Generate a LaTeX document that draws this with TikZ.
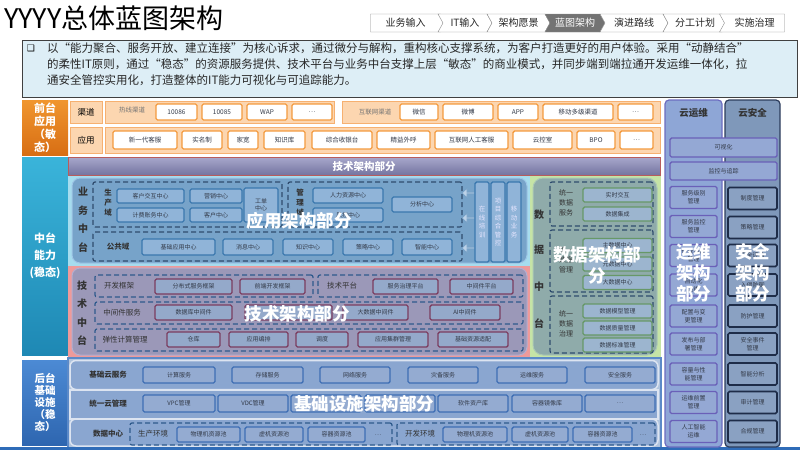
\documentclass[tikz,border=0pt]{standalone}
\usepackage{fontspec}
\setmainfont{Noto Sans CJK SC}
\newfontfamily\symfont{DejaVu Sans}
\usepackage{tikz}
\usetikzlibrary{arrows.meta,positioning,shapes.arrows,shapes.symbols,calc}
\definecolor{frontorange}{HTML}{F0962E}
\definecolor{frontdark}{HTML}{D86E14}
\definecolor{peach}{HTML}{FCD6B0}
\definecolor{peachline}{HTML}{F6B070}
\definecolor{itemorange}{HTML}{F39A3E}
\definecolor{midteal}{HTML}{3AB4DA}
\definecolor{midteal2}{HTML}{1E88B4}
\definecolor{backblue}{HTML}{4C8AD4}
\definecolor{backblue2}{HTML}{2E66B0}
\definecolor{bannertop}{HTML}{A8A8CC}
\definecolor{bannerbot}{HTML}{7474A0}
\definecolor{bannerline}{HTML}{B85C5C}
\definecolor{appbg}{HTML}{A6DCEE}
\definecolor{appfill}{HTML}{77A3C9}
\definecolor{appline}{HTML}{9EC6E6}
\definecolor{aitemfill}{HTML}{90B4D8}
\definecolor{aitemline}{HTML}{3B78AE}
\definecolor{dashline}{HTML}{2F4C6E}
\definecolor{databg}{HTML}{C6E4A6}
\definecolor{datafill}{HTML}{8FABAA}
\definecolor{dataline}{HTML}{AAC8B4}
\definecolor{ditemfill}{HTML}{9CB5CF}
\definecolor{ditemline}{HTML}{679868}
\definecolor{techbg}{HTML}{EE9A9A}
\definecolor{techfill}{HTML}{9B98B8}
\definecolor{techline}{HTML}{B4AED0}
\definecolor{titemfill}{HTML}{94A9CA}
\definecolor{titemline}{HTML}{7B3D60}
\definecolor{techdash}{HTML}{2E5A8C}
\definecolor{infrabg}{HTML}{B0C4DE}
\definecolor{infrafill}{HTML}{8AA6D0}
\definecolor{infraline}{HTML}{5C8AC8}
\definecolor{iitemfill}{HTML}{94ABD1}
\definecolor{iitemline}{HTML}{3E6EB4}
\definecolor{opsfill}{HTML}{8EA6D6}
\definecolor{opsline}{HTML}{6C6CC0}
\definecolor{oitemfill}{HTML}{94A8D4}
\definecolor{oitemline}{HTML}{6A60B8}
\definecolor{secfill}{HTML}{7F98BA}
\definecolor{secline}{HTML}{2C3C5C}
\definecolor{sitemfill}{HTML}{8AA1C2}
\definecolor{sitemline}{HTML}{1E2C48}
\definecolor{descblue}{HTML}{DDEEF6}
\definecolor{textdark}{HTML}{333A48}
\definecolor{footblue}{HTML}{2F6CB8}

\begin{document}
\begin{tikzpicture}[x=1pt,y=-1pt,
  area/.style={inner sep=0pt},
  lab/.style={area, text=white, font=\bfseries\fontsize{11}{13}\selectfont, align=center, minimum width=46},
  tab/.style={shape=signal, signal from=west, signal to=east, signal pointer angle=122,
              draw=black!45, fill=white, minimum height=18, inner sep=0pt,
              font=\fontsize{10}{10}\selectfont, text=black!85},
  tabon/.style={tab, fill=black!55, text=white},
  item/.style={draw, line width=1.4pt, rounded corners=1.5pt, inner sep=0pt, align=center,
               text=textdark, font=\fontsize{6}{7}\selectfont},
  fitem/.style={item, fill=white, draw=itemorange, font=\fontsize{6.5}{7}\selectfont},
  aitem/.style={item, fill=aitemfill, draw=aitemline},
  ditem/.style={item, fill=ditemfill, draw=ditemline},
  titem/.style={item, fill=titemfill, draw=titemline},
  iitem/.style={item, fill=iitemfill, draw=iitemline},
  oitem/.style={item, fill=oitemfill, draw=oitemline, font=\fontsize{6}{8}\selectfont},
  sitem/.style={item, fill=sitemfill, draw=sitemline, line width=1.6pt, font=\fontsize{6}{8}\selectfont},
  dbox/.style={area, draw=dashline, line width=1.2pt, dash pattern=on 5pt off 3pt, rounded corners=2pt},
  vlab/.style={area, font=\bfseries\fontsize{10}{18.5}\selectfont, text=black!80, align=center},
  slab/.style={area, font=\bfseries\fontsize{7.5}{10}\selectfont, text=black!80, align=center},
  big/.style={area, text=white, font=\bfseries\fontsize{17.5}{21}\selectfont, align=center}
]
\useasboundingbox (0,0) rectangle (800,450);

% header
\node[anchor=west, inner sep=0pt, font=\fontsize{27}{27}\selectfont] (title) at (4,18) {YYYY总体蓝图架构};
\node[tab, signal from=nowhere, minimum width=75] (tab-1) at (405.5,23) {业务输入};
\foreach \txt/\xa/\xb/\st [count=\i from 2] in {IT输入/438/487/tab, 架构愿景/487/545/tab,
    蓝图架构/545/600/tabon, 演进路线/600/663/tab, 分工计划/663/722/tab}
  \node[\st, minimum width={(\xb-\xa+5)*1pt}] (tab-\i) at ({(\xa+\xb+5)/2},23) {\txt};
\node[tab, signal to=nowhere, minimum width=65] (tab-7) at (754.5,23) {实施治理};

% description
\node[area, draw=black!75, line width=0.8pt, fill=descblue, minimum width=775, minimum height=57] (desc) at (409.5,68.5) {};
\node[inner sep=0pt, font=\symfont\fontsize{9}{9}\selectfont] (bullet) at (31,48) {❑};
\node[anchor=west, align=left, inner sep=0pt, font=\fontsize{11.5}{16}\selectfont, text=black!85] (desctext) at (47,64)
  {以“能力聚合、服务开放、建立连接”为核心诉求，通过微分与解构，重构核心支撑系统，为客户打造更好的用户体验。采用“动静结合”\\
   的柔性IT原则，通过“稳态”的资源服务提供、技术平台与业务中台支撑上层“敏态”的商业模式，并同步端到端拉通开发运维一体化，拉\\
   通安全管控实用化，打造整体的IT能力可视化与可追踪能力。};

% left labels
\node[lab, minimum height=55, top color=frontorange, bottom color=frontdark] (front) at (45,127.5) {前台\\应用\\（敏\\态）};
\node[lab, minimum height=198, top color=midteal, bottom color=midteal2, font=\bfseries\fontsize{11}{17}\selectfont] (mid) at (45,256) {中台\\能力\\(稳态)};
\node[lab, minimum height=85, top color=backblue, bottom color=backblue2, font=\bfseries\fontsize{10.5}{12}\selectfont] (back) at (45,402.5) {后台\\基础\\设施\\（稳\\态）};

% front end
\node[area, fill=peach, draw=peachline, line width=1pt, minimum width=32, minimum height=22, font=\fontsize{8.5}{9}\selectfont] (ch-lab) at (86,112) {渠道};
\node[area, fill=peach, draw=peachline, line width=1pt, minimum width=32, minimum height=26, font=\fontsize{8.5}{9}\selectfont] (fa-lab) at (86,140) {应用};
\node[area, fill=peach, draw=peachline, line width=1pt, minimum width=229, minimum height=22] (hot-grp) at (219.5,112) {};
\node[area, fill=peach, draw=peachline, line width=1pt, minimum width=318, minimum height=22] (net-grp) at (501,112) {};
\node[area, fill=peach, draw=peachline, line width=1pt, minimum width=555, minimum height=26] (fa-grp) at (382.5,140) {};
\node[area, text=black!55, font=\fontsize{6.5}{7}\selectfont] (hot-lab) at (132,110) {热线渠道};
\node[area, text=black!55, font=\fontsize{6.5}{7}\selectfont] (net-lab) at (375,112) {互联网渠道};
\foreach \txt/\xa/\xb [count=\i] in {10086/156/197, 10085/202/242, WAP/247/287, \ldots/292/332}
  \node[fitem, minimum width={(\xb-\xa)*1pt}, minimum height=16] (hot-\i) at ({(\xa+\xb)/2},112) {\txt};
\foreach \txt/\xa/\xb [count=\i] in {微信/400/438, 微博/443/493, APP/498/538, 移动多级渠道/543/613, \ldots/618/653}
  \node[fitem, minimum width={(\xb-\xa)*1pt}, minimum height=16] (net-\i) at ({(\xa+\xb)/2},112) {\txt};
\foreach \txt/\xa/\xb [count=\i] in {新一代客服/113/177, 实名制/182/222, 家宽/228/258, 知识库/264/305,
    综合收银台/312/372, 精益外呼/377/430, 互联网人工客服/435/508, 云控室/513/572, BPO/577/615, \ldots/620/653}
  \node[fitem, minimum width={(\xb-\xa)*1pt}, minimum height=18] (fa-\i) at ({(\xa+\xb)/2},140) {\txt};

% banner
\node[area, top color=bannertop, bottom color=bannerbot, draw=bannerline, line width=0.6pt,
      minimum width=592, minimum height=18, text=white, font=\bfseries\fontsize{10.5}{11}\selectfont] (banner) at (364,166) {技术架构部分};

% application middle platform
\node[area, fill=appbg, minimum width=462, minimum height=90] (app-bg) at (299,221) {};
\node[area, fill=appfill, draw=appline, line width=1pt, rounded corners=8pt, minimum width=455, minimum height=85] (app-in) at (299.5,220.5) {};
\node[vlab] (app-lab) at (83,220) {业\\务\\中\\台};
\node[dbox, minimum width=189, minimum height=45] (prod) at (187.5,204.5) {};
\node[dbox, minimum width=174, minimum height=45] (mgmt) at (375,204.5) {};
\node[dbox, minimum width=369, minimum height=29] (pub) at (277.5,246.5) {};
\node[slab] (prod-lab) at (108,203) {生\\产\\域};
\node[slab] (mgmt-lab) at (300,203) {管\\理\\域};
\node[slab] (pub-lab) at (118,247) {公共域};
\foreach \txt/\xa/\xb/\ya/\yb [count=\i] in {客户交互中心/117/184/189/203, 营销中心/190/242/189/203,
    计费账务中心/117/184/208/222, 客户中心/190/242/208/222, 工单\\中心/244/278/188/222,
    人力资源中心/313/383/188/203, 风控中心/313/383/208/222, 分析中心/392/452/197/212}
  \node[aitem, minimum width={(\xb-\xa)*1pt}, minimum height={(\yb-\ya)*1pt}] (ap-\i) at ({(\xa+\xb)/2},{(\ya+\yb)/2}) {\txt};
\foreach \txt/\xa/\xb [count=\i] in {基础应用中心/142/215, 消息中心/223/273, 知识中心/283/333, 策略中心/343/393, 智能中心/402/452}
  \node[aitem, minimum width={(\xb-\xa)*1pt}, minimum height=16] (pb-\i) at ({(\xa+\xb)/2},247) {\txt};
\foreach \y [count=\i] in {193,218,248}
  \node[shape=single arrow, shape border rotate=180, single arrow head extend=2pt, fill=aitemfill!60!white,
        draw=aitemline!70, line width=0.8pt, minimum height=13, minimum width=10, inner sep=0pt] (arr-\i) at (469,\y) {};
\foreach \txt/\x [count=\i] in {在\\线\\培\\训/482, 项\\目\\综\\合\\管\\控/498, 移\\动\\业\\务/514}
  \node[aitem, minimum width=14, minimum height=80, text=white!90!blue, font=\fontsize{6.5}{8.5}\selectfont] (bar-\i) at (\x,222) {\txt};

% data middle platform
\node[area, fill=databg, minimum width=131, minimum height=182] (data-bg) at (595.5,267) {};
\node[area, fill=datafill, draw=dataline, line width=1pt, rounded corners=10pt, minimum width=124, minimum height=177] (data-in) at (595,266.5) {};
\foreach \txt/\y [count=\i] in {数/215, 据/250, 中/287, 台/324}
  \node[vlab] (data-lab-\i) at (539,\y) {\txt};
\node[dbox, minimum width=103, minimum height=44] (dsvc) at (601.5,204) {};
\node[dbox, minimum width=103, minimum height=62] (dmgt) at (601.5,261) {};
\node[dbox, minimum width=103, minimum height=57] (dgov) at (601.5,324.5) {};
\node[area, align=center, text=black!80, font=\fontsize{7}{10}\selectfont] (dsvc-lab) at (566,203) {统一\\数据\\服务};
\node[area, align=center, text=black!80, font=\fontsize{7}{10}\selectfont] (dmgt-lab) at (566,260) {统一\\数据\\管理};
\node[area, align=center, text=black!80, font=\fontsize{7}{10}\selectfont] (dgov-lab) at (566,324) {统一\\数据\\治理};
\foreach \txt/\y [count=\i] in {实时交互/195, 数据集成/214, 主数据中心/245.5, 元数据中心/264, 大数据中心/282.5,
    数据模型管理/311, 数据质量管理/328, 数据标准管理/345}
  \node[ditem, minimum width=69, minimum height=14] (dt-\i) at (617.5,\y) {\txt};

% technology middle platform
\node[area, fill=techbg, minimum width=462, minimum height=92] (tech-bg) at (299,312) {};
\node[area, fill=techfill, draw=techline, line width=1pt, rounded corners=8pt, minimum width=455, minimum height=87] (tech-in) at (299.5,311.5) {};
\node[vlab] (tech-lab) at (82,313) {技\\术\\中\\台};
\node[dbox, draw=techdash, minimum width=218, minimum height=22] (tdev) at (204,286) {};
\node[dbox, draw=techdash, minimum width=205, minimum height=22] (tplat) at (420.5,286) {};
\node[dbox, draw=techdash, minimum width=428, minimum height=22] (tmid) at (309,313) {};
\node[dbox, draw=techdash, minimum width=428, minimum height=22] (telas) at (309,340) {};
\foreach \txt/\x/\y [count=\i] in {开发框架/119/286, 技术平台/342/286, 中间件服务/122/313, 弹性计算管理/125/340}
  \node[area, text=black!80, font=\fontsize{7.5}{8}\selectfont] (tlab-\i) at (\x,\y) {\txt};
\foreach \txt/\xa/\xb/\y [count=\i] in {分布式服务框架/155/232/286.5, 前端开发框架/240/305/286.5,
    服务治理平台/373/438/286.5, 中间件平台/450/513/286.5,
    数据库中间件/155/232/312.5, {}/245/332/312.5, 大数据中间件/343/408/312.5, AI中间件/430/500/312.5,
    仓库/167/220/339.5, 应用编排/229/288/339.5, 调度/296/348/339.5, 应用集群管理/358/428/339.5, 基础资源适配/438/508/339.5}
  \node[titem, minimum width={(\xb-\xa)*1pt}, minimum height=15] (tc-\i) at ({(\xa+\xb)/2},\y) {\txt};

% infrastructure
\node[area, fill=infrabg, draw=infraline, line width=1.2pt, minimum width=593, minimum height=90] (infra-bg) at (364.5,403) {};
\node[area, fill=infrafill, draw=white!70!infrafill, line width=1.5pt, rounded corners=6pt, minimum width=588, minimum height=29] (irow-1) at (364,375) {};
\node[area, fill=infrafill, draw=white!70!infrafill, line width=1.5pt, minimum width=588, minimum height=29] (irow-2) at (364,404.5) {};
\node[area, fill=infrafill, draw=white!70!infrafill, line width=1.5pt, rounded corners=6pt, minimum width=588, minimum height=27] (irow-3) at (364,432.5) {};
\foreach \txt/\y [count=\i] in {基础云服务/375, 统一云管理/404, 数据中心/434}
  \node[slab] (ilab-\i) at (108,\y) {\txt};
\foreach \txt/\xa/\xb [count=\i] in {计算服务/143/215, 存储服务/232/303, 网络服务/320/390, 灾备服务/408/478, 运维服务/497/567, 安全服务/585/655}
  \node[iitem, minimum width={(\xb-\xa)*1pt}, minimum height=16] (ic-\i) at ({(\xa+\xb)/2},375) {\txt};
\foreach \txt/\xa/\xb [count=\i] in {VPC管理/143/215, VDC管理/218/288, {}/291/361, {}/365/435, 软件资产库/438/508, 容器镜像库/512/582, \ldots/585/655}
  \node[iitem, minimum width={(\xb-\xa)*1pt}, minimum height=17] (im-\i) at ({(\xa+\xb)/2},403.5) {\txt};
\node[dbox, draw=techdash, minimum width=262, minimum height=22] (prodenv) at (261,434) {};
\node[dbox, draw=techdash, minimum width=258, minimum height=22] (devenv) at (526,434) {};
\node[area, text=black!80, font=\fontsize{7.5}{8}\selectfont] (prodenv-lab) at (153,434) {生产环境};
\node[area, text=black!80, font=\fontsize{7.5}{8}\selectfont] (devenv-lab) at (420,434) {开发环境};
\foreach \txt/\xa/\xb [count=\i] in {物理机资源池/177/240, 虚机资源池/245/303, 容器资源池/308/365,
    物理机资源池/443/507, 虚机资源池/512/568, 容器资源池/573/632}
  \node[iitem, minimum width={(\xb-\xa)*1pt}, minimum height=15] (id-\i) at ({(\xa+\xb)/2},434.5) {\txt};
\node[area, text=textdark, font=\fontsize{6}{6}\selectfont] (id-more-1) at (378,435) {\ldots};
\node[area, text=textdark, font=\fontsize{6}{6}\selectfont] (id-more-2) at (643,435) {\ldots};
\node[area, fill=footblue, minimum width=800, minimum height=3] (foot) at (400,448.5) {};

% operation and security columns
\node[area, fill=opsfill, draw=opsline, line width=1.2pt, rounded corners=4pt, minimum width=57, minimum height=347] (ops) at (693.5,273.5) {};
\node[area, fill=secfill, draw=secline, line width=1.2pt, rounded corners=4pt, minimum width=55, minimum height=347] (sec) at (752.5,273.5) {};
\node[slab, font=\bfseries\fontsize{9.5}{10}\selectfont] (ops-lab) at (693.5,113) {云运维};
\node[slab, font=\bfseries\fontsize{9.5}{10}\selectfont] (sec-lab) at (752.5,113) {云安全};
\node[oitem, minimum width=107, minimum height=19] (vis) at (723.5,147.5) {可视化};
\node[oitem, minimum width=107, minimum height=18] (mon) at (723.5,171) {监控与追踪};
\foreach \txt/\y [count=\i] in {服务级别\\管理/197.5, 服务监控\\管理/226.5, 作业调度\\管理/255.5, 自动化\\运维/285,
    配置与变\\更管理/316, 发布与部\\署管理/344, 容量与性\\能管理/374, 运维前置\\管理/402.5, 人工智能\\运维/431.5}
  \node[oitem, minimum width=47, minimum height=22] (op-\i) at (693.5,\y) {\txt};
\foreach \txt/\y [count=\i] in {制度管理/198.5, 策略管理/227.5, 安全评估/255.5, 入侵防御/285,
    防护管理/316, 安全事件\\管理/344, 智能分析/374, 审计管理/402.5, 合规管理/431.5}
  \node[sitem, minimum width=49, minimum height=22] (sc-\i) at (752.5,\y) {\txt};

% overlay titles
\node[big] (app-big) at (299,221) {应用架构部分};
\node[big] (tech-big) at (297,314) {技术架构部分};
\node[big] (data-big) at (597,265) {数据架构部\\分};
\node[big] (infra-big) at (364,404) {基础设施架构部分};
\node[big] (ops-big) at (693.5,273) {运维\\架构\\部分};
\node[big] (sec-big) at (752.5,273) {安全\\架构\\部分};
\end{tikzpicture}
\end{document}
